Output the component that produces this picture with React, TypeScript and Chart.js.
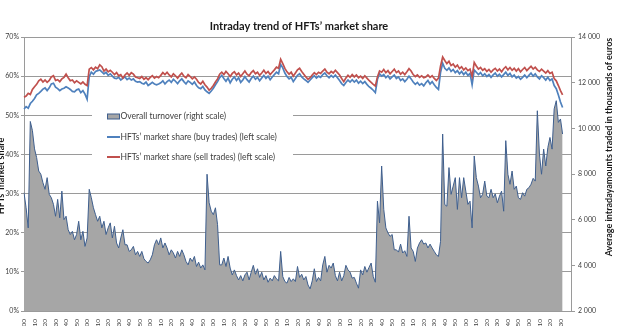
import { useEffect, useRef } from "react";
import { Chart, registerables } from "chart.js";

Chart.register(...registerables);

const TITLE = "Intraday trend of HFTs\u2019 market share";
const LEFT_TITLE = "HFTs\u2019 market share";
const RIGHT_TITLE = "Average intradayamounts traded in thousands of euros";
const LEGEND_LABELS = [
  "Overall turnover (right scale)",
  "HFTs\u2019 market share (buy trades) (left scale)",
  "HFTs\u2019 market share (sell trades) (left scale)",
];

// Two-minute buckets from 9:00 to 17:40
const TIMES: string[] = [];
for (let m = 9 * 60; m <= 17 * 60 + 40; m += 2) {
  TIMES.push(`${Math.floor(m / 60)}:${String(m % 60).padStart(2, "0")}`);
}

const TICK_LABELS = [
  "9:00", "9:10", "9:20", "9:30", "9:40", "9:50",
  "10:00", "10:10", "10:20", "10:30", "10:40", "10:50",
  "11:00", "11:10", "11:20", "11:30", "11:40", "11:50",
  "12:00", "12:10", "12:20", "12:30", "12:40", "12:50",
  "13:00", "13:10", "13:20", "13:30", "13:40", "13:50",
  "14:00", "14:10", "14:20", "14:30", "14:40", "14:50",
  "15:00", "15:10", "15:20", "15:30", "15:40", "15:50",
  "16:00", "16:10", "16:20", "16:30", "16:40", "16:50",
  "17:00", "17:10", "17:20", "17:30",
];

// Average amounts traded (thousands of euros), right scale
const TURNOVER = [
  7180, 6520, 5640, 10300, 9900, 9100, 8720, 8130, 7990, 7620,
  7330, 7840, 7110, 6960, 6670, 6150, 6890, 6080, 7250, 6000,
  6150, 5560, 5350, 5490, 5120, 5350, 5930, 5120, 5490, 4830,
  5200, 7330, 6960, 6520, 6220, 5930, 6150, 5640, 5930, 5350,
  5640, 5860, 5200, 5710, 4980, 4760, 5200, 5560, 4900, 4900,
  4610, 4680, 4830, 4460, 4610, 4390, 4610, 4290, 4170, 4100,
  4240, 4460, 4900, 5120, 4900,
  5200, 4760, 4980, 4760, 4460,
  4680, 4540, 4320, 4610, 4390, 4680, 4460, 4170, 4020, 4320,
  4170, 4390, 3950, 4140, 3880, 4020, 3800, 7990, 6740, 6370,
  6220, 6520, 5780, 4020, 4020, 4320, 3950, 4390, 3880, 3580,
  3800, 3550, 3360, 3550, 3320, 3580, 3700, 3360, 3700, 4000,
  3610, 3850, 3470, 3700, 3360, 3550, 3260, 3440, 3320, 3550,
  3410, 3320, 4610, 3510, 3290, 3220, 3470, 3290,
  3410, 3290, 3950, 3470, 3610, 3360, 3510, 3140, 2970, 3320, 3850, 3290,
  3470, 3320, 4020, 4390, 3700, 4000, 3880, 4100, 3550, 3320,
  3700, 3320, 3550, 4000, 3800, 3700, 3440, 3470, 3220, 3000,
  3800, 3580, 3950, 3700, 3910, 4100, 3510, 3260,
  6810, 5860, 8350, 6450, 5640, 5420, 5270, 5350, 4680, 4680, 4580, 4930,
  4540, 4640, 4390, 6150, 4760, 4610, 4170, 4760, 4980, 5120, 4930,
  4980, 4760, 4930, 4760, 4610, 4460, 4390, 5050, 9750,
  6660, 6590, 8280, 7110, 7470, 7840, 6450, 7840, 6960, 7840,
  7250, 6670, 6810, 5640, 8790, 7840, 7470, 6960, 7110, 7690,
  7030, 6960, 7330, 6960, 7130, 6740, 7030, 7250, 6370, 9460,
  7990, 7550, 8130, 7330, 7470, 6960, 6890, 7180, 7030, 7330,
  7400, 7550, 7810, 7690, 10770, 8870, 7990, 9090, 8350, 9160,
  9600, 9090, 10850, 11210, 10260, 10410, 9750,
];

// HFT share of buy trades (%), left scale
const BUY_SHARE = [
  51.6, 52.2, 51.8, 53.0, 53.6, 54.3, 55.2, 55.6, 56.1, 56.7,
  57.0, 56.3, 57.0, 58.0, 58.2, 57.2, 56.8, 56.3, 56.7, 56.9,
  57.3, 57.0, 56.6, 56.1, 56.0, 56.5, 56.7, 55.8, 56.3, 55.4,
  54.1, 59.9, 61.0, 60.5, 61.2, 61.4, 61.6, 61.1, 60.6, 61.0,
  60.2, 60.6, 60.0, 59.5, 59.4, 59.7, 59.0, 59.5, 59.8, 59.1,
  59.5, 59.0, 59.3, 58.7, 58.5, 58.6, 58.2, 58.0, 58.5, 57.6,
  58.0, 58.4, 58.0, 57.8, 58.0,
  58.3, 58.8, 58.0, 58.6, 59.0,
  58.4, 59.2, 58.7, 58.1, 58.8, 59.3, 58.6, 58.0, 58.8, 58.4,
  57.9, 58.5, 57.6, 57.0, 56.8, 57.4, 56.5, 56.0, 55.6, 56.2,
  56.9, 57.8, 58.6, 59.6, 60.2, 59.4, 58.7, 59.5, 58.3, 59.2,
  59.8, 58.9, 59.6, 58.4, 59.0, 59.9, 59.1, 58.5, 59.4, 60.0,
  59.2, 59.7, 58.8, 59.5, 60.2, 59.4, 60.0, 59.1, 59.8, 60.4,
  61.0, 60.6, 63.0, 62.1, 60.8, 59.9, 59.3, 59.7,
  58.6, 59.4, 60.2, 60.6, 59.8, 59.3, 58.9, 58.4, 59.0, 59.6, 60.1, 59.5,
  60.0, 59.7, 60.4, 60.8, 60.1, 59.6, 60.2, 59.7, 60.3, 59.6,
  58.9, 58.1, 57.6, 58.4, 59.0, 58.5, 59.1, 58.5, 59.0, 58.2,
  58.7, 58.1, 58.6, 57.9, 57.3, 56.9, 56.4, 55.8,
  59.2, 60.6, 60.0, 60.4, 59.6, 60.1, 59.3, 59.8, 60.3, 59.4, 59.8, 58.9,
  59.3, 58.6, 59.2, 60.0, 59.3, 58.5, 57.9, 58.4, 57.7, 58.1, 57.5,
  58.3, 58.9, 58.0, 58.6, 57.8, 57.1, 56.6, 61.0, 63.3,
  62.0, 61.5, 62.1, 61.2, 61.7, 60.9, 61.4, 60.6, 61.2, 60.4,
  61.0, 60.2, 60.7, 57.8, 61.6, 61.0, 60.4, 60.9, 60.1, 60.6,
  59.9, 60.4, 59.7, 60.3, 60.8, 60.0, 60.5, 59.8, 60.4, 61.0,
  60.2, 60.7, 59.8, 60.3, 59.5, 59.9, 59.2, 59.7, 60.3, 59.6,
  60.2, 60.8, 60.0, 60.6, 59.8, 59.3, 60.1, 59.6, 59.0, 59.7,
  58.9, 59.3, 57.6, 56.8, 55.2, 53.4, 52.0,
];

// HFT share of sell trades (%), left scale
const SELL_SHARE = [
  54.6, 54.9, 55.6, 55.3, 56.6, 57.3, 57.9, 58.8, 59.2, 58.5,
  59.0, 58.4, 58.9, 59.8, 60.1, 58.9, 59.1, 58.6, 59.3, 59.7,
  60.5, 59.6, 58.8, 59.0, 58.3, 58.8, 58.4, 58.0, 58.5, 57.9,
  57.6, 61.8, 62.2, 61.6, 62.3, 61.9, 62.9, 62.4, 61.3, 61.8,
  61.1, 61.5, 61.0, 60.4, 60.9, 60.1, 60.4, 59.5, 60.3, 60.8,
  60.2, 60.9, 60.5, 59.8, 59.6, 59.4, 59.9, 59.2, 59.6, 59.1,
  59.7, 60.1, 59.5, 59.9, 59.6,
  60.2, 60.9, 60.4, 61.0, 60.3,
  59.8, 60.6, 60.1, 59.5, 60.2, 60.8, 60.0, 59.6, 60.4, 59.9,
  59.3, 59.8, 59.2, 58.4, 58.0, 58.7, 57.8, 57.2, 56.4, 56.9,
  57.6, 58.5, 59.3, 60.5, 61.0, 60.4, 61.2, 60.6, 59.9, 60.7,
  61.1, 60.3, 60.8, 59.9, 60.6, 61.3, 60.5, 60.1, 60.9, 61.4,
  60.6, 61.0, 60.2, 60.8, 61.5, 60.7, 61.2, 60.4, 61.0, 61.6,
  62.3, 62.0, 64.3, 63.2, 62.0, 61.1, 60.5, 61.0,
  60.0, 60.8, 61.6, 62.0, 61.2, 60.5, 59.8, 59.2, 59.6, 60.3, 60.9, 60.4,
  61.0, 60.7, 61.3, 61.8, 61.0, 60.6, 61.2, 60.8, 61.5, 60.9,
  60.3, 59.4, 58.6, 59.5, 60.2, 59.7, 60.4, 59.8, 60.3, 59.6,
  60.0, 59.4, 60.1, 59.5, 58.9, 58.4, 57.9, 57.5,
  59.8, 61.3, 61.0, 61.7, 60.9, 61.4, 60.6, 61.2, 61.8, 60.9, 61.3, 60.5,
  61.0, 60.4, 61.1, 61.9, 61.3, 60.4, 59.9, 60.3, 59.7, 60.1, 59.6,
  59.8, 60.3, 59.7, 60.1, 59.4, 58.9, 59.5, 62.6, 64.9,
  64.0, 63.2, 63.8, 62.7, 63.1, 62.3, 62.8, 61.9, 62.4, 61.6,
  62.1, 61.4, 61.8, 59.9, 63.5, 62.6, 61.8, 62.2, 61.5, 61.9,
  61.2, 61.7, 61.0, 61.6, 62.0, 61.3, 61.8, 61.1, 61.9, 62.4,
  61.6, 62.2, 61.5, 62.0, 61.3, 61.9, 61.1, 61.7, 62.2, 61.4,
  62.0, 62.5, 61.8, 62.3, 61.6, 61.2, 61.8, 61.3, 60.8, 61.4,
  60.7, 61.0, 59.4, 58.8, 57.6, 56.3, 55.2,
];

const FONT = "Lato, 'Liberation Sans', sans-serif";
const AREA_FILL = "#a6a6a6";
const AREA_EDGE = "#3f5f8e";
const BUY_COLOR = "#4f81bd";
const SELL_COLOR = "#c0504d";
const GRID = "#9a9a9a";
const TEXT = "#404040";

const W = 620;
const H = 345;

const fmtThousands = (v: number) =>
  String(v).replace(/\B(?=(\d{3})+(?!\d))/g, " ");

// Title, rotated axis titles and the boxed legend inside the plot
const decorations = {
  id: "decorations",
  afterDatasetsDraw(chart: any) {
    const { ctx, chartArea } = chart;
    ctx.save();

    ctx.fillStyle = "#1a1a1a";
    ctx.font = `bold 11px ${FONT}`;
    ctx.textAlign = "center";
    ctx.textBaseline = "middle";
    ctx.fillText(TITLE, 299, 26);

    ctx.font = `bold 9px ${FONT}`;
    ctx.save();
    ctx.translate(1.5, 176);
    ctx.rotate(-Math.PI / 2);
    ctx.fillText(LEFT_TITLE, 0, 0);
    ctx.restore();

    ctx.save();
    ctx.translate(609, 147);
    ctx.rotate(-Math.PI / 2);
    ctx.fillText(RIGHT_TITLE, 0, 0);
    ctx.restore();

    // legend
    const lx = chartArea.left + 68;
    const ly = 103;
    ctx.fillStyle = "#ffffff";
    ctx.fillRect(lx, ly, 201, 62);

    const symX = chartArea.left + 83;
    const txtX = chartArea.left + 96.5;
    const rows = [116.5, 137, 157];

    ctx.fillStyle = AREA_FILL;
    ctx.fillRect(symX, rows[0] - 2.5, 12, 5);
    ctx.strokeStyle = AREA_EDGE;
    ctx.lineWidth = 1;
    ctx.strokeRect(symX + 0.5, rows[0] - 2.5, 12, 5);

    ctx.lineWidth = 2;
    ctx.strokeStyle = BUY_COLOR;
    ctx.beginPath();
    ctx.moveTo(symX, rows[1]);
    ctx.lineTo(symX + 13, rows[1]);
    ctx.stroke();

    ctx.strokeStyle = SELL_COLOR;
    ctx.beginPath();
    ctx.moveTo(symX, rows[2]);
    ctx.lineTo(symX + 13, rows[2]);
    ctx.stroke();

    ctx.fillStyle = TEXT;
    ctx.font = `8.5px ${FONT}`;
    ctx.textAlign = "left";
    LEGEND_LABELS.forEach((t, i) => ctx.fillText(t, txtX, rows[i]));

    ctx.restore();
  },
};

export default function App() {
  const ref = useRef<HTMLCanvasElement>(null);

  useEffect(() => {
    const chart = new Chart(ref.current!, {
      type: "line",
      data: {
        labels: TIMES,
        datasets: [
          {
            label: LEGEND_LABELS[0],
            data: TURNOVER,
            yAxisID: "y1",
            fill: "start",
            backgroundColor: AREA_FILL,
            borderColor: AREA_EDGE,
            borderWidth: 1,
            pointRadius: 0,
            tension: 0,
            order: 3,
          },
          {
            label: LEGEND_LABELS[1],
            data: BUY_SHARE,
            yAxisID: "y",
            fill: false,
            borderColor: BUY_COLOR,
            borderWidth: 1.7,
            pointRadius: 0,
            tension: 0,
            order: 2,
          },
          {
            label: LEGEND_LABELS[2],
            data: SELL_SHARE,
            yAxisID: "y",
            fill: false,
            borderColor: SELL_COLOR,
            borderWidth: 1.7,
            pointRadius: 0,
            tension: 0,
            order: 1,
          },
        ],
      },
      options: {
        responsive: false,
        devicePixelRatio: 1,
        animation: false,
        layout: { padding: { top: 37, left: 0, right: 0, bottom: 0 } },
        plugins: {
          legend: { display: false },
          title: { display: false },
          tooltip: { enabled: false },
        },
        scales: {
          x: {
            type: "category",
            grid: { display: false },
            border: { display: true, color: GRID, width: 1 },
            ticks: {
              autoSkip: false,
              maxRotation: 90,
              minRotation: 90,
              padding: 0,
              color: TEXT,
              font: { family: FONT, size: 6.5 },
              callback: (_v: any, i: number) =>
                TICK_LABELS.includes(TIMES[i]) ? TIMES[i] : null,
            },
            afterFit: (s: any) => {
              s.height = H - 311;
            },
          },
          y: {
            position: "left",
            min: 0,
            max: 70,
            grid: {
              color: GRID,
              lineWidth: 1,
              drawTicks: true,
              tickLength: 3,
            },
            border: { display: true, color: GRID, width: 1 },
            ticks: {
              stepSize: 10,
              padding: 2,
              color: TEXT,
              font: { family: FONT, size: 7 },
              callback: (v: any) => `${v}%`,
            },
            afterFit: (s: any) => {
              s.width = 24;
            },
          },
          y1: {
            position: "right",
            min: 2000,
            max: 14000,
            grid: {
              drawOnChartArea: false,
              color: GRID,
              drawTicks: true,
              tickLength: 4,
            },
            border: { display: true, color: GRID, width: 1 },
            ticks: {
              stepSize: 2000,
              padding: 3,
              color: TEXT,
              font: { family: FONT, size: 7 },
              callback: (v: any) => fmtThousands(v),
            },
            afterFit: (s: any) => {
              s.width = W - 571;
            },
          },
        },
      },
      plugins: [decorations],
    });
    return () => chart.destroy();
  }, []);

  return (
    <div
      style={{
        position: "fixed",
        left: 0,
        top: 0,
        width: W,
        height: H,
        background: "#ffffff",
      }}
    >
      <canvas
        ref={ref}
        width={W}
        height={H}
        style={{ display: "block", width: W, height: H }}
      />
    </div>
  );
}
